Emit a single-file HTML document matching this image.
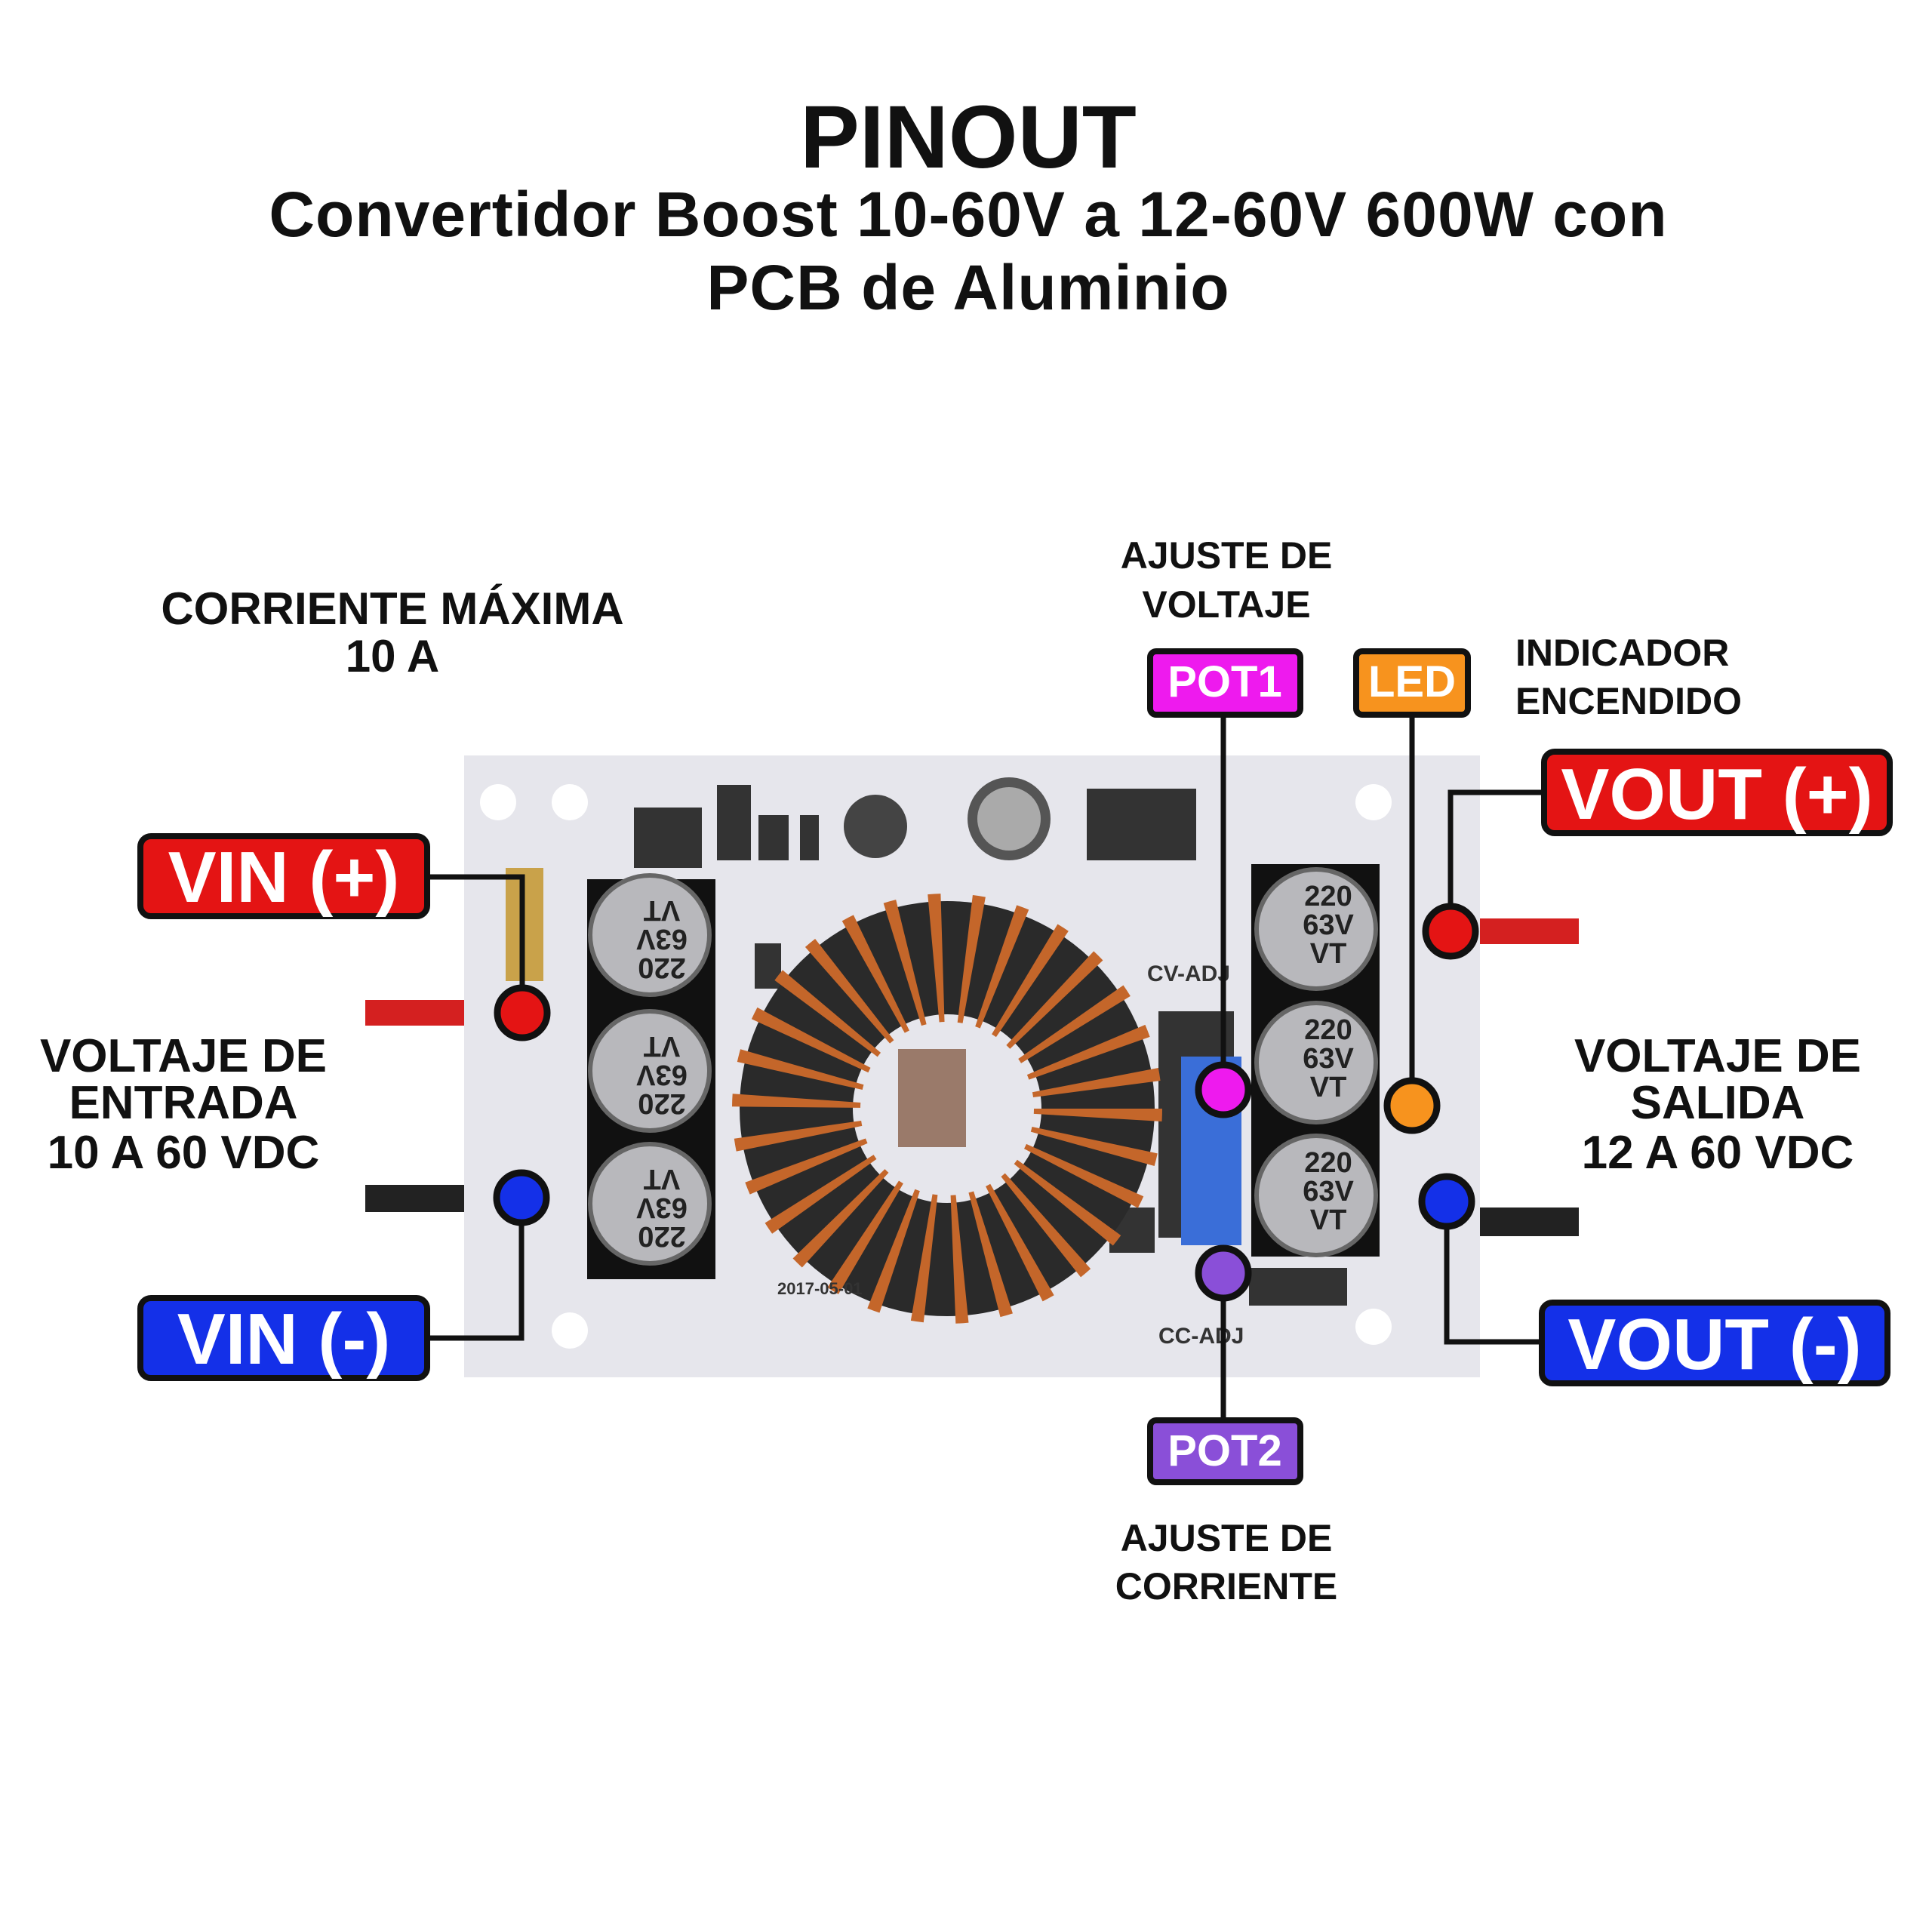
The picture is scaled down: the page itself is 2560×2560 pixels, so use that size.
<!DOCTYPE html>
<html><head><meta charset="utf-8"><style>
html,body{margin:0;padding:0;background:#fff}
svg{display:block}
text{font-family:"Liberation Sans",sans-serif;font-weight:bold}
</style></head><body>
<svg width="2560" height="2560" viewBox="0 0 2560 2560" xmlns="http://www.w3.org/2000/svg">
<rect width="2560" height="2560" fill="#fff"/>
<text x="1283" y="222" font-size="118" text-anchor="middle" fill="#111">PINOUT</text>
<text x="1283" y="313" font-size="84" text-anchor="middle" fill="#111" letter-spacing="1">Convertidor Boost 10-60V a 12-60V 600W con</text>
<text x="1283" y="410" font-size="84" text-anchor="middle" fill="#111" letter-spacing="1">PCB de Aluminio</text>

<!-- wires -->
<rect x="484" y="1325" width="200" height="34" fill="#d42020"/>
<rect x="484" y="1570" width="200" height="36" fill="#222"/>
<rect x="1930" y="1217" width="162" height="34" fill="#d42020"/>
<rect x="1930" y="1600" width="162" height="38" fill="#222"/>

<!-- board -->
<rect x="615" y="1001" width="1346" height="824" fill="#e6e6ec"/>
<g fill="#fff">
<circle cx="660" cy="1063" r="24"/><circle cx="755" cy="1063" r="24"/>
<circle cx="755" cy="1763" r="24"/><circle cx="1820" cy="1063" r="24"/><circle cx="1820" cy="1758" r="24"/>
</g>
<g fill="#333">
<rect x="840" y="1070" width="90" height="80"/><rect x="950" y="1040" width="45" height="100"/>
<rect x="1440" y="1045" width="145" height="95"/><rect x="670" y="1150" width="50" height="150" fill="#c9a24a"/>
<rect x="1005" y="1080" width="40" height="60"/><rect x="1060" y="1080" width="25" height="60"/>
<rect x="1000" y="1250" width="35" height="60"/><rect x="1535" y="1340" width="100" height="300"/>
<rect x="1470" y="1600" width="60" height="60"/><rect x="1655" y="1680" width="130" height="50"/>
</g>
<circle cx="1160" cy="1095" r="42" fill="#444"/>
<circle cx="1337" cy="1085" r="55" fill="#555"/><circle cx="1337" cy="1085" r="42" fill="#aaa"/>
<rect x="1565" y="1400" width="80" height="250" fill="#3a6ed8"/>
<g>
<rect x="778" y="1165" width="170" height="530" fill="#111"/>
<rect x="1658" y="1145" width="170" height="520" fill="#111"/>
<g fill="#b8b8bc" stroke="#666" stroke-width="6">
<circle cx="861" cy="1239" r="79"/><circle cx="861" cy="1419" r="79"/><circle cx="861" cy="1595" r="79"/>
<circle cx="1744" cy="1231" r="79"/><circle cx="1744" cy="1408" r="79"/><circle cx="1744" cy="1584" r="79"/>
</g>
<g font-size="38" fill="#222" text-anchor="middle">
<text x="1760" y="1200">220</text><text x="1760" y="1238">63V</text><text x="1760" y="1276">VT</text>
<text x="1760" y="1377">220</text><text x="1760" y="1415">63V</text><text x="1760" y="1453">VT</text>
<text x="1760" y="1553">220</text><text x="1760" y="1591">63V</text><text x="1760" y="1629">VT</text>
</g>
<g font-size="38" fill="#222" text-anchor="middle">
<g transform="rotate(180 861 1239)"><text x="845" y="1208">220</text><text x="845" y="1246">63V</text><text x="845" y="1284">VT</text></g>
<g transform="rotate(180 861 1419)"><text x="845" y="1388">220</text><text x="845" y="1426">63V</text><text x="845" y="1464">VT</text></g>
<g transform="rotate(180 861 1595)"><text x="845" y="1564">220</text><text x="845" y="1602">63V</text><text x="845" y="1640">VT</text></g>
</g>
</g>
<circle cx="1255" cy="1469" r="200" fill="none" stroke="#2a2a2a" stroke-width="150"/>
<circle cx="1255" cy="1469" r="200" fill="none" stroke="#c4662a" stroke-width="170" stroke-dasharray="12 30"/>
<rect x="1190" y="1390" width="90" height="130" fill="#9a7a6a"/>
<g font-size="30" fill="#333">
<text x="1520" y="1300">CV-ADJ</text><text x="1535" y="1780">CC-ADJ</text>
<text x="1030" y="1715" font-size="22">2017-05-01</text>
</g>

<g stroke="#111" stroke-width="7" fill="none">
<polyline points="566,1162 692,1162 692,1342"/>
<polyline points="566,1773 691,1773 691,1587"/>
<polyline points="2046,1050 1922,1050 1922,1234"/>
<polyline points="2043,1778 1917,1778 1917,1592"/>
<line x1="1621" y1="947" x2="1621" y2="1444"/>
<line x1="1871" y1="947" x2="1871" y2="1465"/>
<line x1="1621" y1="1687" x2="1621" y2="1882"/>
</g>
<g stroke="#111" stroke-width="9">
<circle cx="692" cy="1342" r="33" fill="#e41414"/>
<circle cx="691" cy="1587" r="33" fill="#1430e8"/>
<circle cx="1922" cy="1234" r="33" fill="#e41414"/>
<circle cx="1917" cy="1592" r="33" fill="#1430e8"/>
<circle cx="1621" cy="1444" r="33" fill="#ee1aee"/>
<circle cx="1871" cy="1465" r="33" fill="#f7931e"/>
<circle cx="1621" cy="1687" r="33" fill="#8a4fd8"/>
</g>
<g stroke="#111" stroke-width="8">
<rect x="186" y="1108" width="380" height="106" rx="14" fill="#e41414"/>
<rect x="186" y="1720" width="380" height="106" rx="14" fill="#1430e8"/>
<rect x="2046" y="996" width="458" height="108" rx="14" fill="#e41414"/>
<rect x="2043" y="1726" width="458" height="107" rx="14" fill="#1430e8"/>
<rect x="1524" y="863" width="199" height="84" rx="8" fill="#ee1aee"/>
<rect x="1797" y="863" width="148" height="84" rx="8" fill="#f7931e"/>
<rect x="1524" y="1882" width="199" height="82" rx="8" fill="#8a4fd8"/>
</g>
<g fill="#fff" text-anchor="middle">
<text x="376" y="1195" font-size="96">VIN (+)</text>
<text x="376" y="1807" font-size="96">VIN (-)</text>
<text x="2275" y="1085" font-size="96">VOUT (+)</text>
<text x="2272" y="1814" font-size="96">VOUT (-)</text>
<text x="1623" y="923" font-size="58">POT1</text>
<text x="1871" y="923" font-size="58">LED</text>
<text x="1623" y="1942" font-size="58">POT2</text>
</g>
<g fill="#111" text-anchor="middle">
<text x="520" y="827" font-size="60">CORRIENTE MÁXIMA</text>
<text x="520" y="890" font-size="60">10 A</text>
<text x="1625" y="753" font-size="50">AJUSTE DE</text>
<text x="1625" y="818" font-size="50">VOLTAJE</text>
<text x="243" y="1420" font-size="62">VOLTAJE DE</text>
<text x="243" y="1482" font-size="62">ENTRADA</text>
<text x="243" y="1548" font-size="62">10 A 60 VDC</text>
<text x="2276" y="1420" font-size="62">VOLTAJE DE</text>
<text x="2276" y="1482" font-size="62">SALIDA</text>
<text x="2276" y="1548" font-size="62">12 A 60 VDC</text>
<text x="1625" y="2055" font-size="50">AJUSTE DE</text>
<text x="1625" y="2119" font-size="50">CORRIENTE</text>
</g>
<g fill="#111" font-size="50">
<text x="2008" y="882">INDICADOR</text>
<text x="2008" y="946">ENCENDIDO</text>
</g>
</svg>
</body></html>
